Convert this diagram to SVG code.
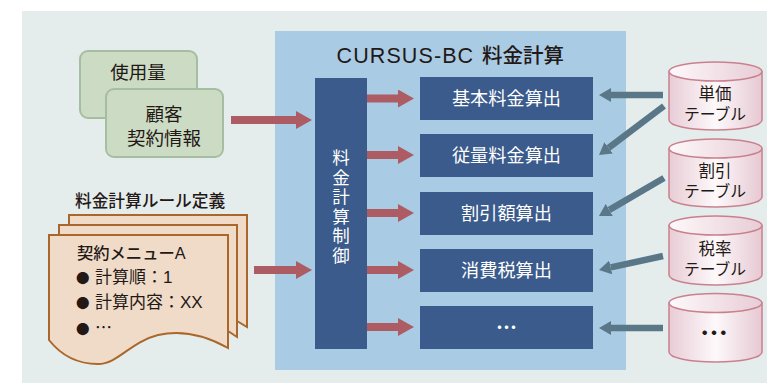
<svg xmlns="http://www.w3.org/2000/svg" width="767" height="383" viewBox="0 0 767 383">
<style>
text{font-family:"Noto Sans CJK JP","Liberation Sans",sans-serif;fill:#231815}
.lat{font-family:"Liberation Sans","Noto Sans CJK JP",sans-serif}
.g{fill:#ccdcc4;stroke:#a5bea2;stroke-width:2}
.d{fill:#efdbc8;stroke:#a9672c;stroke-width:2}
.b{fill:#3a5b8c}
.w{fill:#fff;font-size:18.200px;text-anchor:middle}
.c{fill:url(#cy);stroke:#c9808f;stroke-width:1.5}
.ct{fill:url(#ct);stroke:#c9808f;stroke-width:1.5}
.m{font-size:16.500px;text-anchor:middle}
.t{font-size:15.800px;text-anchor:middle}
.l{font-size:17px}
.o{font-size:13.500px}
.r{stroke:#ad5c64;stroke-width:8;marker-end:url(#ra);fill:none}
.s{stroke:#5a7788;stroke-width:6.5;marker-end:url(#sa);fill:none}
</style>
<defs>
<linearGradient id="cy"><stop offset="0" stop-color="#e8ccd6"/><stop offset=".5" stop-color="#fdf9fa"/><stop offset="1" stop-color="#e6c8d3"/></linearGradient>
<linearGradient id="ct"><stop offset="0" stop-color="#fdf9fa"/><stop offset="1" stop-color="#e8ccd6"/></linearGradient>
<marker id="ra" markerUnits="userSpaceOnUse" markerWidth="16" markerHeight="18" refX="0" refY="9" orient="auto"><path d="M0 0L16 9L0 18Z" fill="#ad5c64"/></marker>
<marker id="sa" markerUnits="userSpaceOnUse" markerWidth="12" markerHeight="14" refX="0" refY="7" orient="auto"><path d="M0 0L12 7L0 14Z" fill="#5a7788"/></marker>
</defs>
<rect x="22" y="11" width="745" height="372" fill="#e5ecec"/>
<rect x="275" y="31" width="351" height="339" fill="#a9cbe4"/>
<text x="336.500" y="63" font-size="20.500" font-weight="500"><tspan class="lat" style="font-size:21.500px;font-weight:400;letter-spacing:1.100px">CURSUS-BC</tspan><tspan x="482">料金計算</tspan></text>
<g id="usage"><rect class="g" x="80" y="51" width="117" height="67" rx="8"/><text x="138" y="78.500" style="font-size:18.500px;text-anchor:middle">使用量</text></g>
<g id="customer"><rect class="g" x="106" y="89" width="117" height="68" rx="8"/><text x="164" y="121" style="font-size:18.500px;text-anchor:middle">顧客</text><text x="164" y="145" style="font-size:18.500px;text-anchor:middle">契約情報</text></g>
<g id="rules">
<text x="75" y="206.500" font-size="16.700" font-weight="500">料金計算ルール定義</text>
<path class="d" d="M69 215H247V327L237 321V225H69Z"/>
<path class="d" d="M59 225H237V337L228 331V235H59Z"/>
<path class="d" d="M49 235H228V348C205 335 180 330 158 335C130 342 118 364 98 364C75 364 60 354 49 340Z"/>
<text x="77" y="258.500" font-size="16.300" font-weight="500">契約メニュー<tspan class="lat">A</tspan></text>
<text class="l" x="76" y="283"><tspan class="o">●</tspan><tspan x="95">計算順：<tspan class="lat">1</tspan></tspan></text>
<text class="l" x="76" y="308"><tspan class="o">●</tspan><tspan x="95">計算内容：<tspan class="lat">XX</tspan></tspan></text>
<text class="l" x="76" y="334"><tspan class="o">●</tspan><tspan x="95">…</tspan></text>
</g>
<g id="control"><rect class="b" x="315" y="78" width="52" height="271"/><text x="341" y="149" style="fill:#fff;font-size:17.500px;writing-mode:vertical-rl;letter-spacing:2px">料金計算制御</text></g>
<g id="calc1"><rect class="b" x="420" y="77" width="173" height="43"/><text class="w" x="506.500" y="105">基本料金算出</text></g>
<g id="calc2"><rect class="b" x="420" y="134" width="173" height="43"/><text class="w" x="506.500" y="162">従量料金算出</text></g>
<g id="calc3"><rect class="b" x="420" y="192" width="173" height="43"/><text class="w" x="506.500" y="220">割引額算出</text></g>
<g id="calc4"><rect class="b" x="420" y="249" width="173" height="43"/><text class="w" x="506.500" y="277">消費税算出</text></g>
<g id="calc5"><rect class="b" x="420" y="306" width="173" height="43"/><text class="w" x="506.500" y="335" style="font-size:21px;font-weight:700">…</text></g>
<g id="db1"><path class="c" d="M669 71.500V120C669 126 690 130 715.500 130S762 126 762 120V71.500Z"/><ellipse class="ct" cx="715.500" cy="71.500" rx="46.500" ry="9.500"/><text class="m" x="715" y="100">単価</text><text class="t" x="715" y="120">テーブル</text></g>
<g id="db2"><path class="c" d="M669 148.500V197C669 203 690 207 715.500 207S762 203 762 197V148.500Z"/><ellipse class="ct" cx="715.500" cy="148.500" rx="46.500" ry="9.500"/><text class="m" x="715" y="177">割引</text><text class="t" x="715" y="197">テーブル</text></g>
<g id="db3"><path class="c" d="M669 225.500V275C669 281 690 285 715.500 285S762 281 762 275V225.500Z"/><ellipse class="ct" cx="715.500" cy="225.500" rx="46.500" ry="9.500"/><text class="m" x="715" y="255">税率</text><text class="t" x="715" y="275">テーブル</text></g>
<g id="db4"><path class="c" d="M669 303V352C669 358 690 362 715.500 362S762 358 762 352V303Z"/><ellipse class="ct" cx="715.500" cy="303" rx="46.500" ry="9.500"/><text x="714" y="344" style="font-size:28px;font-weight:700;text-anchor:middle">…</text></g>
<g id="connectors">
<path class="r" d="M231 120H296"/>
<path class="r" d="M254 270H296"/>
<path class="r" d="M367 98.500H398"/>
<path class="r" d="M367 155H398"/>
<path class="r" d="M367 213H398"/>
<path class="r" d="M367 270H398"/>
<path class="r" d="M367 327H398"/>
<path class="s" d="M663 95H611"/>
<path class="s" d="M664 106L608.600 147.800"/>
<path class="s" d="M664 178L609.300 209.900"/>
<path class="s" d="M663 256L610.700 267.400"/>
<path class="s" d="M663 328H611"/>
</g>
</svg>
